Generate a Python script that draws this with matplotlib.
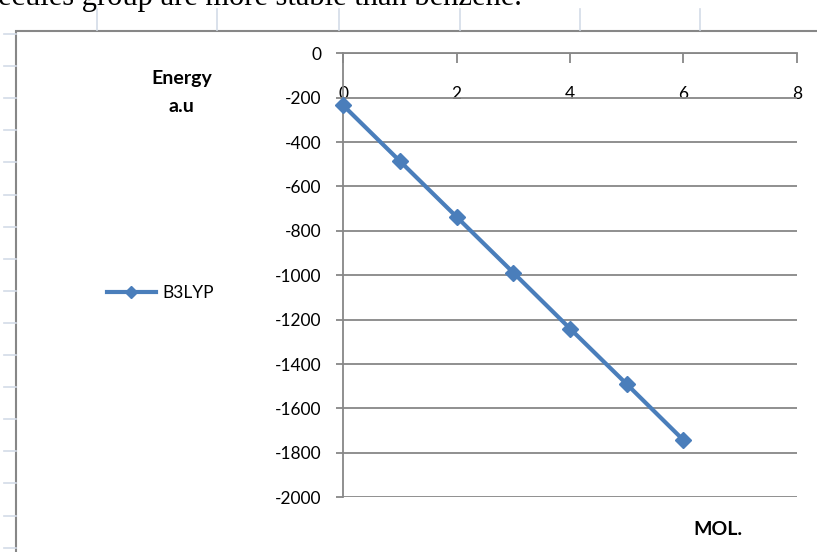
import matplotlib
matplotlib.use('AGG')
import matplotlib.pyplot as plt
from matplotlib.patches import Rectangle
from matplotlib.lines import Line2D

# B3LYP total energies (a.u.) against number of molecules
mol = [0, 1, 2, 3, 4, 5, 6]
energy = [-235, -486, -737, -988, -1240, -1490, -1742]
series_name = "B3LYP"
x_ticks = [0, 2, 4, 6, 8]
y_ticks = [0, -200, -400, -600, -800, -1000, -1200, -1400, -1600, -1800, -2000]

W, H = 817, 552
blue = '#4a7ebb'
gray = '#878787'
lite = '#d3dbe8'
font = 'Lato'


def fx(px):
    return px / W


def fy(py):
    return 1 - py / H


fig = plt.figure(figsize=(W / 100, H / 100), dpi=100)

# page text cut off at the top
fig.text(fx(-2), fy(5), "ecules group are more stable than benzene.",
         family='Liberation Serif', fontsize=22, va='baseline', ha='left')

# page grid marks around the chart object
for px in [97, 217, 339, 460, 580, 700]:
    fig.add_artist(Line2D([fx(px), fx(px)], [fy(9), fy(30)], color=lite, lw=1.2))
for k in range(17):
    py = 34 + 32.1 * k
    fig.add_artist(Line2D([fx(4), fx(16)], [fy(py), fy(py)], color=lite, lw=1.2))

# chart border
fig.add_artist(Rectangle((fx(16), fy(560)), fx(820) - fx(16), fy(30.7) - fy(560),
                         fill=False, edgecolor=gray, lw=1.5))

ax = fig.add_axes([fx(343.3), fy(497.3), fx(796.7) - fx(343.3), fy(53.3) - fy(497.3)])
line, = ax.plot(mol, energy, color=blue, lw=3, marker='D', markersize=8.5,
                markerfacecolor=blue, markeredgecolor=blue, label=series_name,
                clip_on=False, zorder=3)

ax.set_xlim(0, 8)
ax.set_ylim(-2000, 0)
ax.set_xticks(x_ticks)
ax.set_yticks(y_ticks)
ax.set_xticklabels([str(v) for v in x_ticks])
ax.set_yticklabels([str(v) for v in y_ticks])

for s in ['right', 'bottom']:
    ax.spines[s].set_visible(False)
for s in ['left', 'top']:
    ax.spines[s].set_color(gray)
    ax.spines[s].set_linewidth(1.3)

ax.yaxis.grid(True, color=gray, lw=1.3)
ax.set_axisbelow(True)

ax.tick_params(axis='x', top=True, bottom=False, labeltop=True, labelbottom=False,
               direction='in', length=7, width=1.3, color=gray, pad=-35,
               labelsize=12.5, labelfontfamily=font)
ax.tick_params(axis='y', direction='out', length=5, width=1.3, color=gray, pad=11,
               labelsize=12.5, labelfontfamily=font)

ax.set_ylabel("Energy\na.u", rotation=0, fontsize=14, fontweight='bold',
              family=font, ha='center', va='center', linespacing=1.75)
ax.yaxis.set_label_coords(-0.356, 0.912)
ax.set_xlabel("MOL.", fontsize=14, fontweight='bold', family=font,
              ha='center', va='center')
ax.xaxis.set_label_coords(0.826, -0.0736)

leg = fig.legend(handles=[line], loc='center left',
                 bbox_to_anchor=(fx(107), fy(293)), frameon=False,
                 borderpad=0, borderaxespad=0, handlelength=2.8,
                 handletextpad=0.4, prop={'family': font, 'size': 12.5},
                 markerscale=0.7)

fig.savefig('out.png', dpi=100)
